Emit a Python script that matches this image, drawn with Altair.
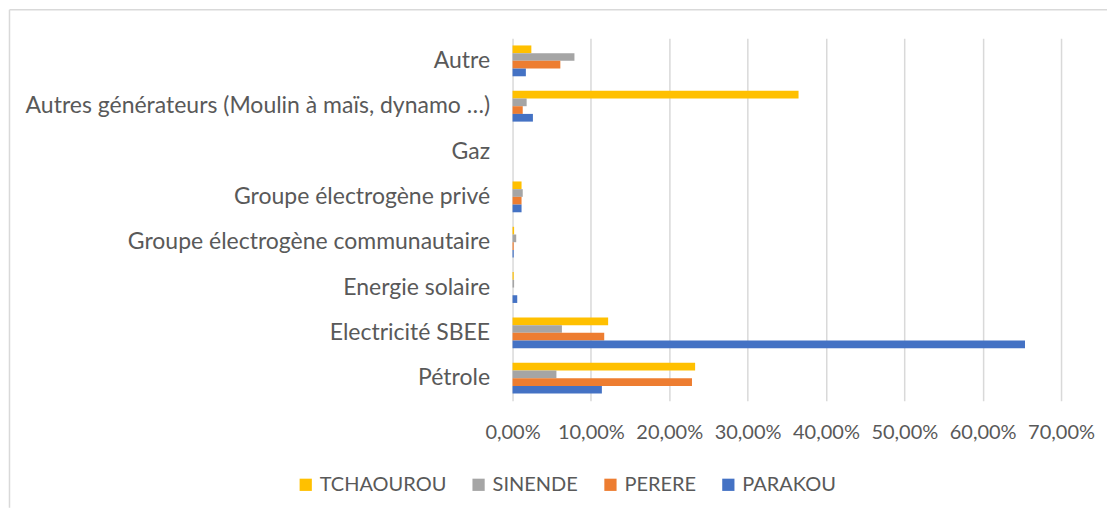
import altair as alt
import pandas as pd

categories = [
    "Autre",
    "Autres générateurs (Moulin à maïs, dynamo …)",
    "Gaz",
    "Groupe électrogène privé",
    "Groupe électrogène communautaire\u00a0",
    "Energie solaire",
    "Electricité SBEE",
    "Pétrole",
]
series = ["TCHAOUROU", "SINENDE", "PERERE", "PARAKOU"]
colors = ["#FFC000", "#A5A5A5", "#ED7D31", "#4472C4"]

tchaourou = [0.024, 0.365, 0.0, 0.0115, 0.002, 0.0015, 0.122, 0.233]
sinende = [0.079, 0.018, 0.0, 0.013, 0.0047, 0.002, 0.063, 0.056]
perere = [0.061, 0.013, 0.0, 0.0115, 0.0015, 0.0, 0.117, 0.229]
parakou = [0.017, 0.026, 0.0, 0.0115, 0.0015, 0.006, 0.654, 0.114]

tick_values = [0.0, 0.1, 0.2, 0.3, 0.4, 0.5, 0.6, 0.7]

rows = []
for s, vals in zip(series, [tchaourou, sinende, perere, parakou]):
    for c, v in zip(categories, vals):
        rows.append({"cat": c, "serie": s, "value": v})
df = pd.DataFrame(rows)

FONT = "Lato"
TXT = "#595959"

bars = alt.Chart(df).mark_bar().encode(
    y=alt.Y("cat:N", sort=categories, title=None,
            scale=alt.Scale(paddingInner=0.32, paddingOuter=0.16),
            axis=alt.Axis(ticks=False, domain=False, labelFontSize=23,
                          labelColor=TXT, labelFont=FONT, labelPadding=23,
                          labelLimit=800)),
    yOffset=alt.YOffset("serie:N", sort=series, scale=alt.Scale(paddingInner=0)),
    x=alt.X("value:Q", title=None,
            scale=alt.Scale(domain=[0, 0.7], nice=False),
            axis=alt.Axis(values=tick_values, grid=True, gridColor="#D9D9D9",
                          gridWidth=1.5, domain=False, ticks=False,
                          labelExpr="replace(format(datum.value, '.2%'), '.', ',')",
                          labelFontSize=20, labelColor=TXT, labelFont=FONT,
                          labelPadding=22, labelOverlap=False, labelFlush=False,
                          labelBound=False)),
    color=alt.Color("serie:N", sort=series,
                    scale=alt.Scale(domain=series, range=colors),
                    legend=alt.Legend(title=None, orient="none", direction="horizontal",
                                      legendX=-217, legendY=437, symbolType="square",
                                      symbolSize=150, symbolStrokeWidth=0,
                                      labelFontSize=20, labelColor=TXT, labelFont=FONT,
                                      columnPadding=22, symbolOffset=0)),
)

border_v = alt.Chart(pd.DataFrame({"a": [0]})).mark_rule(color="#D9D9D9", strokeWidth=1.5).encode(
    x=alt.value(-503.5), y=alt.value(-28.5), y2=alt.value(470)
)
border_h = alt.Chart(pd.DataFrame({"a": [0]})).mark_rule(color="#D9D9D9", strokeWidth=1.5).encode(
    x=alt.value(-503.5), x2=alt.value(595), y=alt.value(-28.5)
)

chart = alt.layer(bars, border_v, border_h).properties(
    width=549, height=363, padding=0
).configure_view(stroke=None)

chart.save("out.html", embed_options={"renderer": "svg", "actions": False})
